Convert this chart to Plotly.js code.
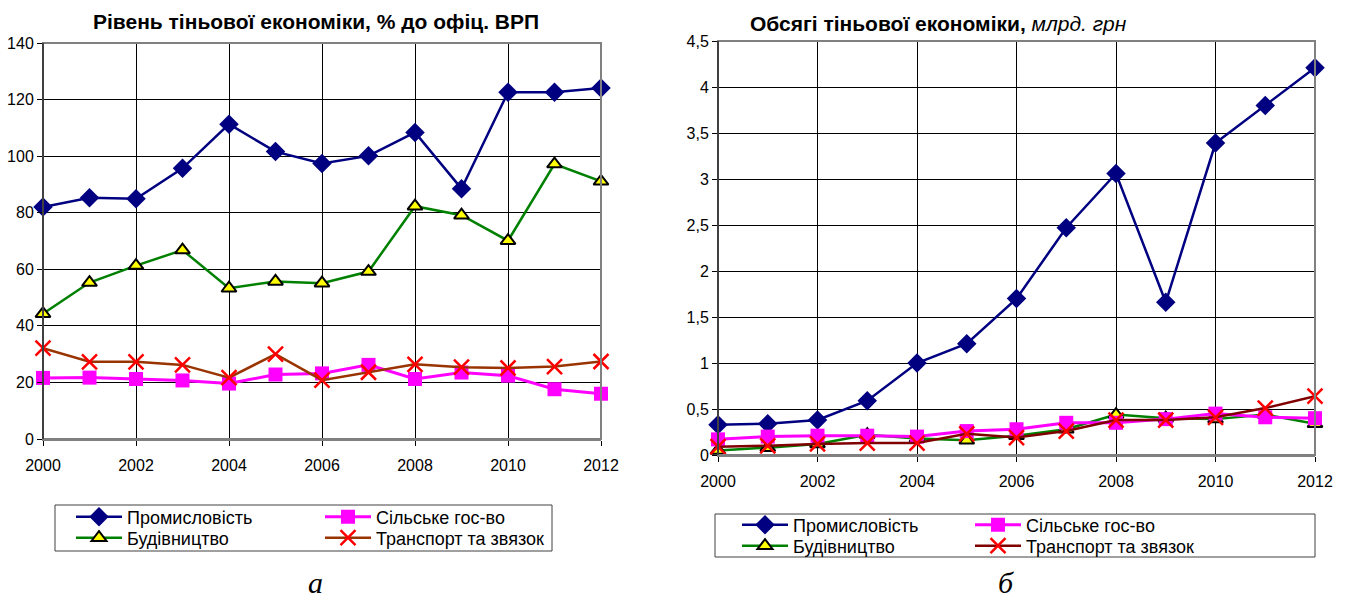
<!DOCTYPE html>
<html>
<head>
<meta charset="utf-8">
<script src="https://cdn.plot.ly/plotly-3.0.1.min.js"></script>
<style>html,body{margin:0;padding:0;background:#fff;}#chart{width:1351px;height:601px;}</style>
</head>
<body>
<div id="chart"></div>
<script>
// ---- data ----
const years = [2000,2001,2002,2003,2004,2005,2006,2007,2008,2009,2010,2011,2012];
const seriesNames = ['Промисловість','Сільське гос-во','Будівництво','Транспорт та звязок'];

// Chart a: level of shadow economy, % of official GDP
const levelIndustry     = [82,85.3,84.9,95.7,111.3,101.6,97.4,100.1,108.4,88.5,122.6,122.6,124.1];
const levelAgriculture  = [21.6,21.7,21.2,20.7,19.6,22.8,23.2,26.2,21.2,23.5,22.4,17.6,16];
const levelConstruction = [44.3,55.3,61.3,66.8,53.3,55.7,55.1,59.2,82.3,79.1,70.1,97.2,91.1];
const levelTransport    = [32.1,27.3,27.3,26.2,21.7,30,20.8,23.6,26.4,25.4,25.1,25.6,27.4];

// Chart b: volume of shadow economy, bln UAH
const volIndustry     = [0.33,0.34,0.38,0.59,1.0,1.21,1.70,2.47,3.06,1.66,3.39,3.80,4.21];
const volAgriculture  = [0.17,0.20,0.21,0.21,0.20,0.26,0.28,0.35,0.35,0.39,0.45,0.41,0.40];
const volConstruction = [0.05,0.08,0.12,0.22,0.18,0.16,0.21,0.28,0.44,0.40,0.39,0.44,0.34];
const volTransport    = [0.09,0.10,0.12,0.13,0.13,0.23,0.19,0.26,0.38,0.38,0.41,0.51,0.64];

const titleA = '<b>Рівень тіньової економіки, % до офіц. ВРП</b>';
const titleB = '<b>Обсягі тіньової економіки, </b><i>млрд. грн</i>';
const captionA = 'а';
const captionB = 'б';

// ---- helpers ----
const W = 1351, H = 601;
const px = v => v / W;
const py = v => 1 - v / H;
const FONT = 'Liberation Sans, Arial, sans-serif';

function mk(kind, transportColor) {
  const styles = {
    ind:  {line:{color:'#000080', width:2.5}, marker:{symbol:'diamond', size:15, color:'#000080'}},
    agr:  {line:{color:'#FF00FF', width:3}, marker:{symbol:'square', size:14, color:'#FF00FF'}},
    con:  {line:{color:'#008000', width:2.5}, marker:{symbol:'triangle-up', size:13, color:'#FFFF00', line:{color:'#000', width:2}}},
    tra:  {line:{color:transportColor, width:2.5}, marker:{symbol:'x-thin-open', size:15, color:'#FF0000', line:{color:'#FF0000', width:2.5}}}
  };
  return styles[kind];
}

function trace(name, y, kind, xa, ya, legend, tcol) {
  const s = mk(kind, tcol);
  return {
    type:'scatter', mode:'lines+markers', name:name, x:years, y:y,
    xaxis:xa, yaxis:ya, legend:legend, line:s.line, marker:s.marker,
    cliponaxis:false, hoverinfo:'x+y'
  };
}

const data = [
  trace(seriesNames[0], levelIndustry, 'ind', 'x', 'y', 'legend', null),
  trace(seriesNames[2], levelConstruction, 'con', 'x', 'y', 'legend2', null),
  trace(seriesNames[1], levelAgriculture, 'agr', 'x', 'y', 'legend3', null),
  trace(seriesNames[3], levelTransport, 'tra', 'x', 'y', 'legend4', '#993300'),
  trace(seriesNames[0], volIndustry, 'ind', 'x2', 'y2', 'legend5', null),
  trace(seriesNames[2], volConstruction, 'con', 'x2', 'y2', 'legend6', null),
  trace(seriesNames[1], volAgriculture, 'agr', 'x2', 'y2', 'legend7', null),
  trace(seriesNames[3], volTransport, 'tra', 'x2', 'y2', 'legend8', '#800000')
];

const tickFont = {family:FONT, size:16, color:'#000'};
function xax(domain, anchor) {
  return {domain:domain, anchor:anchor, range:[2000,2012], dtick:2, tick0:2000,
    showgrid:true, gridcolor:'#000', gridwidth:1, zeroline:false,
    showline:true, linecolor:'#808080', linewidth:2,
    ticks:'outside', ticklen:5, tickcolor:'#000', tickfont:tickFont,
    ticklabelstandoff:6, fixedrange:true};
}
function yax(domain, anchor, range, dtick) {
  return {domain:domain, anchor:anchor, range:range, dtick:dtick, tick0:0,
    showgrid:true, gridcolor:'#000', gridwidth:1, zeroline:false,
    showline:true, linecolor:'#000', linewidth:1,
    ticks:'outside', ticklen:5, tickcolor:'#000', tickfont:tickFont, fixedrange:true};
}

// one legend per row/column so rows sit exactly as in the reference
function legendAt(lineStartX, rowCenterY) {
  return {x:px(lineStartX - 5), y:py(rowCenterY), xanchor:'left', yanchor:'middle', orientation:'v',
    bgcolor:'rgba(0,0,0,0)', borderwidth:0, font:{family:FONT, size:18, color:'#000'},
    itemwidth:46, tracegroupgap:0, itemclick:false, itemdoubleclick:false};
}

const layout = {
  width:W, height:H, margin:{l:0,r:0,t:0,b:0}, paper_bgcolor:'#fff', plot_bgcolor:'#fff',
  separators:', ', showlegend:true, font:{family:FONT, color:'#000'},
  xaxis: xax([px(43), px(601)], 'y'),
  yaxis: yax([py(439), py(43)], 'x', [0,140], 20),
  xaxis2: xax([px(718), px(1315)], 'y2'),
  yaxis2: yax([py(455), py(41)], 'x2', [0,4.5], 0.5),
  legend:  legendAt(76, 517),
  legend2: legendAt(76, 538),
  legend3: legendAt(325, 517),
  legend4: legendAt(325, 538),
  legend5: legendAt(742, 525),
  legend6: legendAt(742, 546),
  legend7: legendAt(975, 525),
  legend8: legendAt(975, 546),
  shapes: [
    {type:'rect', xref:'paper', yref:'paper', x0:px(43), x1:px(601), y0:py(439), y1:py(43), line:{color:'#808080', width:2}, layer:'above'},
    {type:'rect', xref:'paper', yref:'paper', x0:px(718), x1:px(1315), y0:py(455), y1:py(41), line:{color:'#808080', width:2}, layer:'above'},
    {type:'line', xref:'paper', yref:'paper', x0:px(43), x1:px(43), y0:py(439), y1:py(43), line:{color:'#000', width:1}, layer:'above'},
    {type:'line', xref:'paper', yref:'paper', x0:px(718), x1:px(718), y0:py(455), y1:py(41), line:{color:'#000', width:1}, layer:'above'},
    {type:'rect', xref:'paper', yref:'paper', x0:px(55), x1:px(552), y0:py(551), y1:py(505), line:{color:'#404040', width:1}},
    {type:'rect', xref:'paper', yref:'paper', x0:px(715), x1:px(1315), y0:py(557), y1:py(514), line:{color:'#404040', width:1}}
  ],
  annotations: [
    {text:titleA, xref:'paper', yref:'paper', x:px(316), y:py(22), xanchor:'center', yanchor:'middle', showarrow:false, font:{family:FONT, size:21, color:'#000'}},
    {text:titleB, xref:'paper', yref:'paper', x:px(748), y:py(24), xanchor:'left', yanchor:'middle', showarrow:false, font:{family:FONT, size:21, color:'#000'}},
    {text:'<i>'+captionA+'</i>', xref:'paper', yref:'paper', x:px(315), y:0, xanchor:'center', yanchor:'bottom', showarrow:false, font:{family:'Liberation Serif, Times New Roman, serif', size:30, color:'#000'}},
    {text:'<i>'+captionB+'</i>', xref:'paper', yref:'paper', x:px(1006), y:0, xanchor:'center', yanchor:'bottom', showarrow:false, font:{family:'Liberation Serif, Times New Roman, serif', size:30, color:'#000'}}
  ]
};

Plotly.newPlot('chart', data, layout, {displayModeBar:false, staticPlot:false});
</script>
</body>
</html>
